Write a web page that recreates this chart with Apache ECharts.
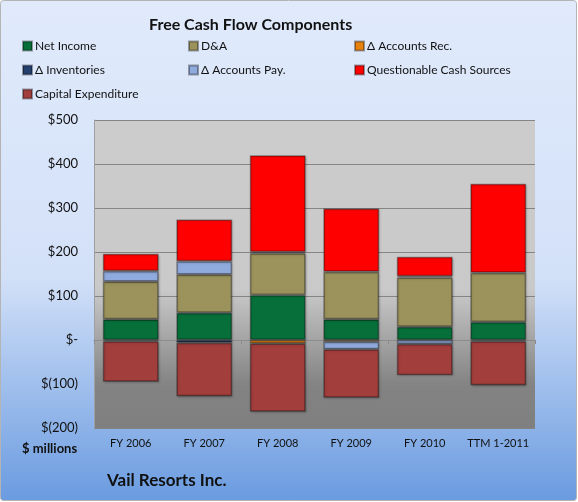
<!DOCTYPE html>
<html>
<head>
<meta charset="utf-8">
<script src="https://cdn.jsdelivr.net/npm/echarts@6/dist/echarts.min.js"></script>
<style>
  html, body { margin: 0; padding: 0; background: #fff; }
  #chart { width: 578px; height: 502px; }
</style>
</head>
<body>
<div id="chart"></div>
<script>
// categories + values ($ millions)
const years = ['FY 2006', 'FY 2007', 'FY 2008', 'FY 2009', 'FY 2010', 'TTM 1-2011'];
const netIncome    = [47, 62, 102, 47, 30, 41];
const depAmort     = [86, 87, 95, 108, 112, 112];
const accountsRec  = [0, 0, -8, -4, 3, 0];
const inventories  = [-3, -6, 0, 0, 0, -3];
const accountsPay  = [24, 30, 3, -17, -9, 0];
const questionable = [39, 95, 220, 144, 44, 202];
const capex        = [-92, -122, -155, -110, -71, -100];
const yTicks = [-200, -100, 0, 100, 200, 300, 400, 500];

const FONT = 'Lato';
const chart = echarts.init(document.getElementById('chart'));

// zero -> no segment at all (avoids a border line of height 0)
const clean = arr => arr.map(v => (v === 0 ? '-' : v));

const seriesDefs = [
  { name: 'Net Income', data: netIncome, color: '#07703a' },
  { name: 'D&A', data: depAmort, color: '#9c935c' },
  { name: '\u0394 Accounts Rec.', data: accountsRec, color: '#e8820e' },
  { name: '\u0394 Inventories', data: inventories, color: '#233f6e' },
  { name: '\u0394 Accounts Pay.', data: accountsPay, color: '#8faadc' },
  { name: 'Questionable Cash Sources', data: questionable, color: '#ff0000' },
  { name: 'Capital Expenditure', data: capex, color: '#a23e3c' }
];

const fmtMoney = v => {
  if (v === 0) return '$-';
  if (v < 0) return '$(' + (-v) + ')';
  return '$' + v;
};

const legendCol = (left, names) => ({
  left: left,
  top: 40,
  padding: 0,
  orient: 'vertical',
  itemWidth: 9,
  itemHeight: 9,
  itemGap: 12,
  icon: 'rect',
  data: names,
  selectedMode: false,
  textStyle: { fontFamily: FONT, fontSize: 12, color: '#111', padding: [0, 0, 0, -2] }
});

const option = {
  animation: false,
  graphic: [{
    type: 'rect',
    z: -10,
    shape: { x: 0.5, y: 0.5, width: 576, height: 500, r: 3 },
    style: {
      fill: new echarts.graphic.LinearGradient(0, 0, 0, 1, [
        { offset: 0, color: '#e0eafb' },
        { offset: 0.55, color: '#d3e1f8' },
        { offset: 1, color: '#6a9be0' }
      ]),
      stroke: '#b4b4b4',
      lineWidth: 1
    }
  }],
  title: [
    {
      text: 'Free Cash Flow Components',
      left: 149, top: 17,
      padding: 0,
      textStyle: { fontFamily: FONT, fontSize: 16, fontWeight: 'bold', color: '#111' }
    },
    {
      text: '$ millions',
      left: 22, top: 442,
      padding: 0,
      textStyle: { fontFamily: FONT, fontSize: 13, fontWeight: 'bold', color: '#111' }
    },
    {
      text: 'Vail Resorts Inc.',
      left: 107, top: 472,
      padding: 0,
      textStyle: { fontFamily: FONT, fontSize: 17, fontWeight: 'bold', color: '#111' }
    }
  ],
  legend: [
    legendCol(22, ['Net Income', '\u0394 Inventories', 'Capital Expenditure']),
    legendCol(188, ['D&A', '\u0394 Accounts Pay.']),
    legendCol(354, ['\u0394 Accounts Rec.', 'Questionable Cash Sources'])
  ],
  grid: {
    left: 94, right: 43, top: 120, bottom: 74,
    show: true,
    borderWidth: 0,
    backgroundColor: new echarts.graphic.LinearGradient(0, 0, 0, 1, [
      { offset: 0, color: '#cccccc' },
      { offset: 0.55, color: '#c9c9c9' },
      { offset: 0.86, color: '#838383' },
      { offset: 1, color: '#7f7f7f' }
    ])
  },
  xAxis: [
    {
      type: 'category',
      data: years,
      position: 'bottom',
      axisLine: { show: false, onZero: false },
      axisTick: { show: false },
      axisLabel: { interval: 0, fontFamily: FONT, fontSize: 11, color: '#111', margin: 10 }
    },
    {
      // zero line with small inward ticks between categories
      type: 'category',
      data: years,
      axisLine: { show: true, onZero: true, lineStyle: { color: '#8c8c8c' } },
      axisTick: { show: true, inside: true, length: 4, lineStyle: { color: '#8c8c8c' } },
      axisLabel: { show: false }
    }
  ],
  yAxis: {
    type: 'value',
    min: yTicks[0],
    max: yTicks[yTicks.length - 1],
    interval: 100,
    axisLine: { show: true, lineStyle: { color: '#a0a0a0' } },
    axisTick: { show: false },
    splitLine: { lineStyle: { color: '#858585', width: 1 } },
    axisLabel: {
      fontFamily: FONT, fontSize: 13, color: '#111', margin: 16,
      formatter: fmtMoney
    }
  },
  series: seriesDefs.map(s => ({
    name: s.name,
    type: 'bar',
    stack: 'fcf',
    xAxisIndex: 0,
    barCategoryGap: '24%',
    data: clean(s.data),
    itemStyle: {
      color: s.color,
      borderColor: 'rgba(0,0,0,0.35)',
      borderWidth: 1.5,
      shadowColor: 'rgba(0,0,0,0.25)',
      shadowBlur: 2,
      shadowOffsetX: 1,
      shadowOffsetY: 1
    }
  }))
};

chart.setOption(option);
</script>
</body>
</html>
